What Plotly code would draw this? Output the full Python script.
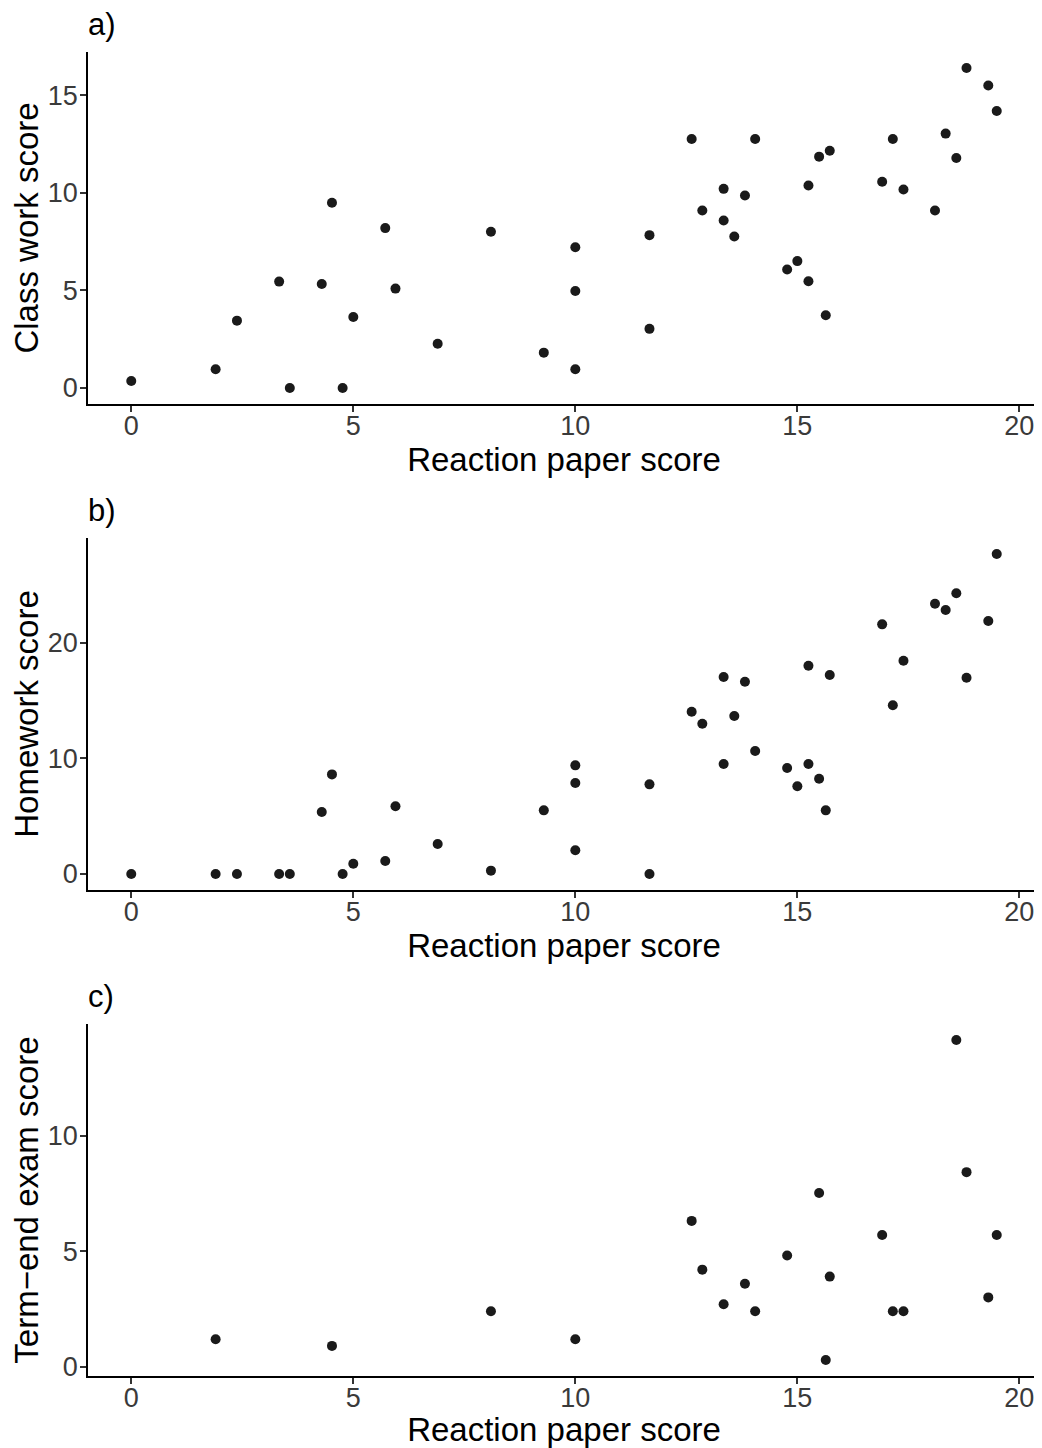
import plotly.graph_objects as go

# ---- data ----
reaction_ab = [0, 1.90, 2.38, 3.33, 3.57, 4.29, 4.52, 4.76, 5.0, 5.72, 5.95, 6.9, 8.1, 9.29,
               10, 10, 10, 11.67, 11.67, 12.62, 12.86, 13.34, 13.34, 13.58, 13.82, 14.05,
               14.77, 15.0, 15.25, 15.25, 15.49, 15.64, 15.73, 16.91, 17.15, 17.39, 18.1,
               18.34, 18.58, 18.81, 19.3, 19.49]
classwork = [0.36, 0.96, 3.45, 5.45, 0, 5.33, 9.49, 0, 3.64, 8.19, 5.09, 2.27, 8.0, 1.81,
             7.21, 4.97, 0.96, 7.83, 3.03, 12.75, 9.09, 10.2, 8.58, 7.76, 9.86, 12.75,
             6.07, 6.5, 5.47, 10.37, 11.85, 3.73, 12.15, 10.56, 12.75, 10.17, 9.09,
             13.03, 11.78, 16.39, 15.49, 14.19]
homework = [0, 0, 0, 0, 0, 5.36, 8.61, 0, 0.89, 1.12, 5.85, 2.59, 0.29, 5.5,
            9.39, 7.87, 2.05, 7.75, 0, 14.03, 12.99, 17.03, 9.51, 13.66, 16.62, 10.63,
            9.16, 7.58, 9.51, 18.0, 8.24, 5.5, 17.2, 21.58, 14.58, 18.44, 23.36,
            22.82, 24.26, 16.97, 21.87, 27.66]
reaction_c = [1.90, 4.52, 8.1, 10, 12.62, 12.86, 13.34, 13.82, 14.05, 14.77, 15.49, 15.64,
              15.73, 16.91, 17.15, 17.39, 18.58, 18.81, 19.3, 19.49]
termend = [1.19, 0.9, 2.4, 1.19, 6.31, 4.2, 2.7, 3.59, 2.4, 4.81, 7.52, 0.29,
           3.9, 5.7, 2.4, 2.4, 14.14, 8.42, 3.0, 5.7]

panel_tags = ["a)", "b)", "c)"]
y_titles = ["Class work score", "Homework score", "Term\u2212end exam score"]
x_title = "Reaction paper score"
x_ticks = [0, 5, 10, 15, 20]
y_ticks = [[0, 5, 10, 15], [0, 10, 20], [0, 5, 10]]

# ---- layout helpers ----
# the page body adds an 8px offset, so the figure is drawn 8px smaller
W, H = 1034, 1440
FONT = "Liberation Sans, Arial, Helvetica, sans-serif"
DOT = "#1a1a1a"


def expand(vals):
    lo, hi = min(vals), max(vals)
    pad = (hi - lo) * 0.05
    return [lo - pad, hi + pad]


# panel pixel extents in figure coordinates (top, bottom)
panels_px = [(44, 396), (530, 882), (1016, 1368)]
domains = [[1 - b / H, 1 - t / H] for t, b in panels_px]

xr = expand(reaction_ab)
series = [(reaction_ab, classwork), (reaction_ab, homework), (reaction_c, termend)]

fig = go.Figure()
axis_common = dict(
    showline=True, linecolor="#000000", linewidth=1.6,
    ticks="outside", ticklen=6, tickwidth=1.6, tickcolor="#333333",
    showgrid=False, zeroline=False, automargin=False,
    tickfont=dict(family=FONT, size=27, color="#3a3a3a"),
)

for i, (xs, ys) in enumerate(series):
    n = "" if i == 0 else str(i + 1)
    fig.add_trace(go.Scatter(
        x=xs, y=ys, mode="markers",
        marker=dict(size=10, color=DOT),
        xaxis="x" + n, yaxis="y" + n, showlegend=False,
    ))
    fig.update_layout(**{
        "xaxis" + n: dict(
            axis_common, domain=[0, 1], range=xr, anchor="y" + n,
            tickvals=x_ticks, ticklabelstandoff=-9,
            title=dict(text=x_title, font=dict(family=FONT, size=33, color="#000000"),
                       standoff=0),
        ),
        "yaxis" + n: dict(
            axis_common, domain=domains[i], range=expand(ys), anchor="x" + n,
            tickvals=y_ticks[i], ticklabelstandoff=-3,
            title=dict(text=y_titles[i], font=dict(family=FONT, size=33, color="#000000"),
                       standoff=8),
        ),
    })
    fig.add_annotation(
        text=panel_tags[i], xref="paper", yref="paper",
        x=0, y=domains[i][1], xanchor="left", yanchor="bottom",
        xshift=-2, yshift=8, showarrow=False,
        font=dict(family=FONT, size=31, color="#000000"),
    )

fig.update_layout(
    width=W, height=H,
    margin=dict(l=80, r=2, t=0, b=0),
    plot_bgcolor="white", paper_bgcolor="white",
    font=dict(family=FONT),
)

fig.write_html("out.html")
